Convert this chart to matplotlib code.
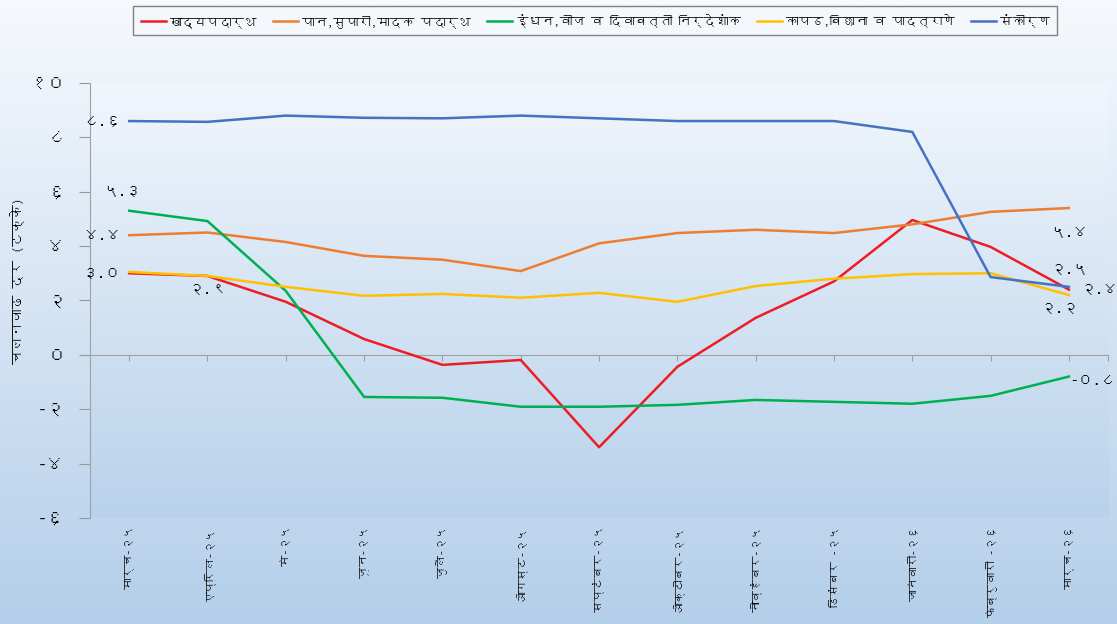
import matplotlib
matplotlib.use("Agg")
import matplotlib.pyplot as plt
from matplotlib import font_manager
from matplotlib.ft2font import FT2Font
import numpy as np

# --- data ---
months = ["मार्च-२५", "एप्रिल-२५", "मे-२५", "जून-२५", "जुलै-२५", "ऑगस्ट-२५",
          "सप्टेंबर-२५", "ऑक्टोबर-२५", "नोव्हेंबर-२५", "डिसेंबर -२५",
          "जानेवारी-२६", "फेब्रुवारी -२६", "मार्च-२६"]
food = [3.0, 2.9, 1.95, 0.58, -0.37, -0.19, -3.4, -0.44, 1.36, 2.7, 4.96, 3.97, 2.4]
paan = [4.4, 4.5, 4.15, 3.64, 3.5, 3.08, 4.1, 4.48, 4.6, 4.48, 4.8, 5.26, 5.4]
fuel = [5.3, 4.92, 2.35, -1.55, -1.58, -1.91, -1.91, -1.84, -1.66, -1.73, -1.8, -1.51, -0.8]
cloth = [3.05, 2.9, 2.5, 2.17, 2.24, 2.1, 2.28, 1.95, 2.53, 2.8, 2.97, 3.0, 2.2]
misc = [8.6, 8.57, 8.8, 8.72, 8.7, 8.8, 8.7, 8.6, 8.6, 8.6, 8.2, 2.86, 2.5]
series_names = ["खाद्यपदार्थ", "पान,सुपारी,मादक पदार्थ", "इंधन,वीज व दिवाबत्ती निर्देशांक",
                "कापड,बिछाना व पादत्राणे", "संकीर्ण"]
yticks = [-6, -4, -2, 0, 2, 4, 6, 8, 10]
ylabel = "चलनवाढ दर (टक्के)"


def find_deva():
    for f in font_manager.fontManager.ttflist:
        try:
            if 0x0915 in FT2Font(f.fname).get_charmap():
                return f.name
        except Exception:
            pass
    return None


deva = find_deva()
plt.rcParams['font.family'] = ([deva] if deva else []) + ['DejaVu Sans']

DIG = str.maketrans("0123456789", "०१२३४५६७८९")


def dev(v, nd=1):
    return (f"{v:.{nd}f}" if nd else f"{v:g}").translate(DIG)


colors = ["#ee1c25", "#ed7d31", "#00b050", "#ffc000", "#4472c4"]
data = [food, paan, fuel, cloth, misc]

fig = plt.figure(figsize=(11.17, 6.24), dpi=100)

# figure background gradient
bg = fig.add_axes([0, 0, 1, 1], zorder=-10)
grad = np.linspace(0, 1, 256)[:, None]
cmap = matplotlib.colors.LinearSegmentedColormap.from_list("bg", ["#f6f9fd", "#b4cfea"])
bg.imshow(grad, aspect="auto", cmap=cmap, extent=[0, 1, 0, 1])
bg.axis("off")

ax = fig.add_axes([0.0806, 0.170, 0.9114, 0.697])
ax.set_facecolor("none")
cmap2 = matplotlib.colors.LinearSegmentedColormap.from_list("pa", ["#f1f6fc", "#b8d2eb"])
ax.imshow(grad, aspect="auto", cmap=cmap2, extent=[0, 1, 0, 1],
          transform=ax.transAxes, zorder=0)

x = np.arange(len(months))
lines = []
for vals, c, name in zip(data, colors, series_names):
    ln, = ax.plot(x, vals, color=c, lw=1.8, label=name, zorder=3)
    lines.append(ln)

ax.set_xlim(-0.5, len(months) - 0.5)
ax.set_ylim(-6, 10)
ax.set_yticks(yticks)
ax.set_yticklabels([dev(t, 0) for t in yticks], fontsize=13)
ax.tick_params(axis="y", length=8, color="#999999", pad=10)

# x axis at zero
ax.spines["bottom"].set_position(("data", 0))
ax.spines["bottom"].set_color("#a0a0a0")
ax.spines["left"].set_color("#a0a0a0")
ax.spines["top"].set_visible(False)
ax.spines["right"].set_visible(False)
ax.set_xticks(list(x) + [len(months) - 0.5])
ax.tick_params(axis="x", length=4, color="#a0a0a0", labelbottom=False)
for xi, m in zip(x, months):
    ax.text(xi, -6.3, m, rotation=90, ha="center", va="top", fontsize=8.3)

fig.text(0.016, 0.55, ylabel, rotation=90, ha="center", va="center",
         fontsize=10, fontweight="bold")

# data labels: (series index, point index, dx, dy, ha, va)
labels = [
    (4, 0, -6, 0, "right", "center"),
    (2, 0, -5, 9, "center", "bottom"),
    (1, 0, -6, 0, "right", "center"),
    (0, 0, -6, 0, "right", "center"),
    (0, 1, 0, -5, "center", "top"),
    (1, 12, 0, -13, "center", "top"),
    (4, 12, 0, 8, "center", "bottom"),
    (0, 12, 8, 0, "left", "center"),
    (3, 12, -7, -5, "center", "top"),
    (2, 12, 1, -3, "left", "center"),
]
for si, pi, dx, dy, ha, va in labels:
    ax.annotate(dev(data[si][pi]), (x[pi], data[si][pi]), xytext=(dx, dy),
                textcoords="offset points", ha=ha, va=va, fontsize=11, zorder=5)

leg = fig.legend(handles=lines, loc="upper center", bbox_to_anchor=(0.533, 1.0),
                 ncol=5, fontsize=9, frameon=True, fancybox=False,
                 handlelength=2.0, handletextpad=0.3, columnspacing=1.3,
                 borderpad=0.6)
leg.get_frame().set_edgecolor("#808080")
leg.get_frame().set_facecolor("#f4f7fb")
leg.get_frame().set_alpha(1)

fig.savefig("out.png", dpi=100)
